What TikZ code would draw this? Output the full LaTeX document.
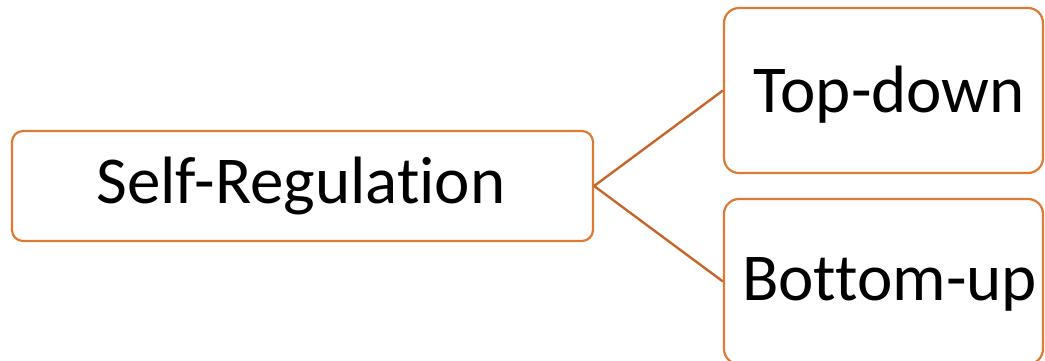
\documentclass[tikz,border=0pt]{standalone}
\usepackage{fontspec}
\setmainfont[Ligatures=NoCommon]{Carlito}
\begin{document}
\begin{tikzpicture}[x=1pt,y=-1pt,
  box/.style={draw=boxorange,line width=2.2pt,rounded corners=#1,inner sep=0pt},
  txt/.style={inner sep=0pt,font=\fontsize{67}{80}\selectfont,text=black},
  link/.style={draw=lineorange,line width=2.4pt}]
\definecolor{boxorange}{HTML}{DD7A34}
\definecolor{lineorange}{HTML}{C6662B}
\useasboundingbox (0,0) rectangle (1045,361);
\node[box=11pt,minimum width=581pt,minimum height=110pt] (sr) at (302.5,186) {};
\node[box=15pt,minimum width=319pt,minimum height=165pt] (td) at (883.5,90.5) {};
\node[box=15pt,minimum width=319pt,minimum height=165pt] (bu) at (883.5,281.5) {};
\node[txt] (srt) at ([xshift=-1.5pt]sr.center) {Self-Regulation};
\node[txt] (tdt) at ([xshift=6pt,yshift=-4pt]td.center) {Top-down};
\node[txt] (but) at ([xshift=6pt,yshift=-3pt]bu.center) {Bottom-up};
\draw[link] (sr.east) -- (td.west);
\draw[link] (sr.east) -- (bu.west);
\end{tikzpicture}
\end{document}
